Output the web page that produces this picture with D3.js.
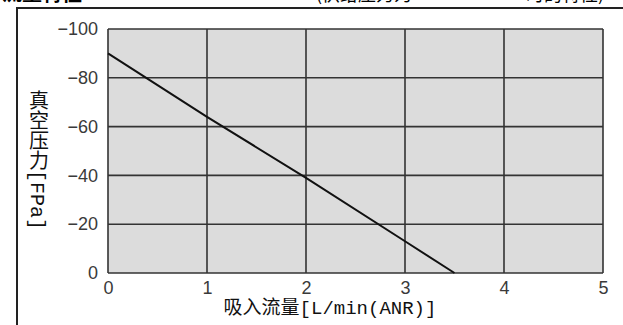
<!DOCTYPE html>
<html>
<head>
<meta charset="utf-8">
<script src="https://cdn.jsdelivr.net/npm/d3@7"></script>
<style>
	body { margin: 0; background: #fff; }
	svg { display: block; }
</style>
</head>
<body>
<div id="chart"></div>
<script>
// data
var flow = [0, 1, 2, 3, 3.5];            // L/min(ANR)
var pressure = [-90, -64, -39, -13, 0];  // kPa
var xTicks = [0, 1, 2, 3, 4, 5];
var yTicks = [0, -20, -40, -60, -80, -100];

var xTitle = "吸入流量[L/min(ANR)]";
var yTitle = "真空压力[FPa]";

function renderChart() {
	var W = 623, H = 325;
	var svg = d3.select("#chart").append("svg")
		.attr("width", W)
		.attr("height", H);

	var x = d3.scaleLinear().domain([0, 5]).range([108, 603]);
	var y = d3.scaleLinear().domain([0, -100]).range([273, 29]);

	// header text, cut off at top like the reference
	svg.append("text")
		.attr("x", 2).attr("y", 1)
		.style("font-family", "Noto Sans CJK SC")
		.style("font-weight", "bold")
		.style("font-size", "20px")
		.text("流量特性");
	svg.append("text")
		.attr("x", 316).attr("y", 1)
		.style("font-family", "Noto Sans CJK SC")
		.style("font-size", "18px")
		.text("(供给压力为");
	svg.append("text")
		.attr("x", 526).attr("y", 1)
		.style("font-family", "Noto Sans CJK SC")
		.style("font-size", "18px")
		.text("时的特性)");

	// outer frame
	svg.append("path")
		.attr("d", "M17," + H + "V8H" + W)
		.attr("fill", "none")
		.attr("stroke", "#222")
		.attr("stroke-width", 2);

	// plot background
	svg.append("rect")
		.attr("x", x(0)).attr("y", y(-100))
		.attr("width", x(5) - x(0))
		.attr("height", y(0) - y(-100))
		.attr("fill", "#dcdcdc");

	// grid
	svg.append("g").selectAll("line.v")
		.data(xTicks).enter().append("line")
		.attr("x1", function (d) { return x(d); })
		.attr("x2", function (d) { return x(d); })
		.attr("y1", y(0)).attr("y2", y(-100))
		.attr("stroke", "#333").attr("stroke-width", 1.6);
	svg.append("g").selectAll("line.h")
		.data(yTicks).enter().append("line")
		.attr("y1", function (d) { return y(d); })
		.attr("y2", function (d) { return y(d); })
		.attr("x1", x(0)).attr("x2", x(5))
		.attr("stroke", "#333").attr("stroke-width", 1.6);

	// curve
	var pts = flow.map(function (f, i) { return [f, pressure[i]]; });
	svg.append("path")
		.datum(pts)
		.attr("fill", "none")
		.attr("stroke", "#111")
		.attr("stroke-width", 2)
		.attr("d", d3.line()
			.x(function (d) { return x(d[0]); })
			.y(function (d) { return y(d[1]); }));

	// axes labels
	var yAxis = svg.append("g")
		.attr("transform", "translate(" + (x(0) - 7) + ",0)")
		.call(d3.axisLeft(y).tickValues(yTicks).tickSize(0)
			.tickFormat(function (d) { return d === 0 ? "0" : "\u2212" + Math.abs(d); }));
	var xAxis = svg.append("g")
		.attr("transform", "translate(0," + (y(0) + 5) + ")")
		.call(d3.axisBottom(x).tickValues(xTicks).tickSize(0)
			.tickFormat(d3.format("d")));
	[xAxis, yAxis].forEach(function (g) {
		g.select(".domain").remove();
		g.selectAll("text")
			.style("font-family", "Liberation Sans, Arial")
			.style("font-size", "18px")
			.attr("fill", "#3a3a3a");
	});

	// titles
	svg.append("text")
		.attr("x", 330).attr("y", 314)
		.attr("text-anchor", "middle")
		.style("font-family", "Liberation Mono, Noto Sans CJK SC")
		.style("font-size", "19px")
		.attr("fill", "#111")
		.text(xTitle);
	svg.append("text")
		.attr("x", 36).attr("y", 160)
		.attr("text-anchor", "middle")
		.style("writing-mode", "vertical-rl")
		.style("font-family", "Liberation Mono, Noto Sans CJK SC")
		.style("font-size", "20px")
		.attr("fill", "#111")
		.text(yTitle);
}

renderChart();
</script>
</body>
</html>
